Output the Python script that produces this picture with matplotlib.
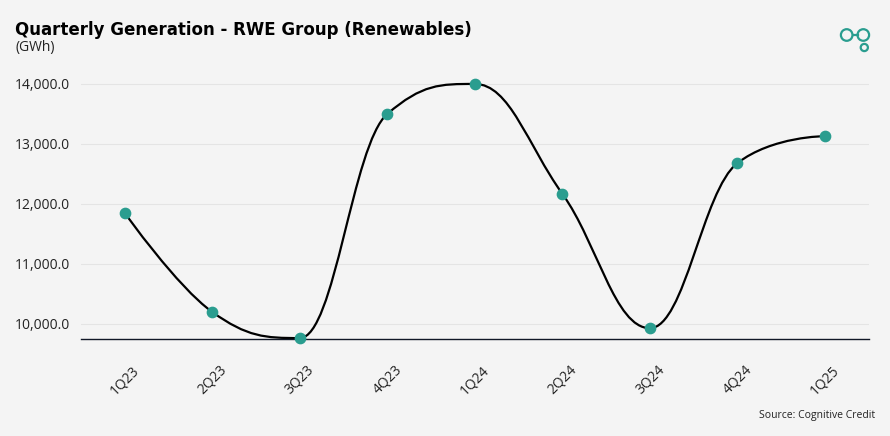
import numpy as np
import matplotlib
matplotlib.use('Agg')
import matplotlib.pyplot as plt
from matplotlib.patches import Circle, PathPatch
from matplotlib.path import Path
from matplotlib.transforms import IdentityTransform

quarters = ['1Q23', '2Q23', '3Q23', '4Q23', '1Q24', '2Q24', '3Q24', '4Q24', '1Q25']
generation = [11850, 10200, 9765, 13500, 14000, 12170, 9930, 12680, 13130]
yticks = [10000, 11000, 12000, 13000, 14000]

teal = '#2a9d8f'
bg = '#f4f4f4'


def spline_path(x, y):
    # highcharts-style spline: smoothing 1.5, no overshoot at peaks/troughs
    sm = 1.5
    den = sm + 1
    n = len(x)
    left = [None] * n
    right = [None] * n
    for i in range(1, n - 1):
        lx = (sm * x[i] + x[i-1]) / den
        ly = (sm * y[i] + y[i-1]) / den
        rx = (sm * x[i] + x[i+1]) / den
        ry = (sm * y[i] + y[i+1]) / den
        corr = (ry - ly) * (rx - x[i]) / (rx - lx) + y[i] - ry
        ly += corr
        ry += corr
        if ly > y[i-1] and ly > y[i]:
            ly = max(y[i-1], y[i])
            ry = 2 * y[i] - ly
        elif ly < y[i-1] and ly < y[i]:
            ly = min(y[i-1], y[i])
            ry = 2 * y[i] - ly
        if ry > y[i+1] and ry > y[i]:
            ry = max(y[i+1], y[i])
            ly = 2 * y[i] - ry
        elif ry < y[i+1] and ry < y[i]:
            ry = min(y[i+1], y[i])
            ly = 2 * y[i] - ry
        left[i] = (lx, ly)
        right[i] = (rx, ry)
    verts = [(x[0], y[0])]
    codes = [Path.MOVETO]
    for i in range(1, n):
        c1 = right[i-1] if right[i-1] is not None else (x[i-1], y[i-1])
        c2 = left[i] if left[i] is not None else (x[i], y[i])
        verts += [c1, c2, (x[i], y[i])]
        codes += [Path.CURVE4] * 3
    return Path(verts, codes)


fig = plt.figure(figsize=(8.9, 4.36), dpi=100, facecolor=bg)
ax = fig.add_axes([0.091, 0.2225, 0.885, 0.6125], facecolor=bg)

xpos = np.arange(len(quarters))
ax.add_patch(PathPatch(spline_path(list(xpos.astype(float)), [float(v) for v in generation]),
                       fill=False, ec='black', lw=1.6, zorder=2))
ax.scatter(xpos, generation, s=55, color=teal, zorder=3, clip_on=False)

ax.set_xlim(-0.5, len(quarters) - 0.5)
ax.set_ylim(9750, 14200)
ax.set_yticks(yticks)
ax.set_yticklabels(['{:,.1f}'.format(v) for v in yticks], fontsize=10, family='Open Sans', color='#222222')
ax.set_xticks(xpos)
ax.set_xticklabels(quarters, rotation=45, ha='center', va='top', fontsize=10, family='Open Sans', color='#222222')
ax.tick_params(axis='both', length=0)
ax.tick_params(axis='x', pad=17)
ax.tick_params(axis='y', pad=8)
ax.grid(axis='y', color='#e4e4e4', lw=0.8)
ax.set_axisbelow(True)
for s in ['top', 'right', 'left']:
    ax.spines[s].set_visible(False)
ax.spines['bottom'].set_color('#111827')
ax.spines['bottom'].set_linewidth(1.0)

fig.text(0.017, 0.932, 'Quarterly Generation - RWE Group (Renewables)', fontsize=12, fontweight='bold',
         family='DejaVu Sans', va='center', ha='left', color='black')
fig.text(0.017, 0.891, '(GWh)', fontsize=10, family='Open Sans', va='center', ha='left', color='#222222')
fig.text(0.983, 0.048, 'Source: Cognitive Credit', fontsize=7.5, family='Open Sans', va='center', ha='right',
         color='#222222')

# logo, in output pixels
H = 436
for (lx, ly, r) in [(846.7, 35, 5.8), (863.3, 35, 5.8), (864.3, 47.5, 3.6)]:
    fig.add_artist(Circle((lx, H - ly), r, transform=IdentityTransform(), fill=False, ec=teal, lw=1.6))
fig.add_artist(plt.Line2D([852.5, 857.5], [H - 35, H - 35], transform=IdentityTransform(), color=teal, lw=1.6))

fig.savefig('out.png', dpi=100, facecolor=bg)
